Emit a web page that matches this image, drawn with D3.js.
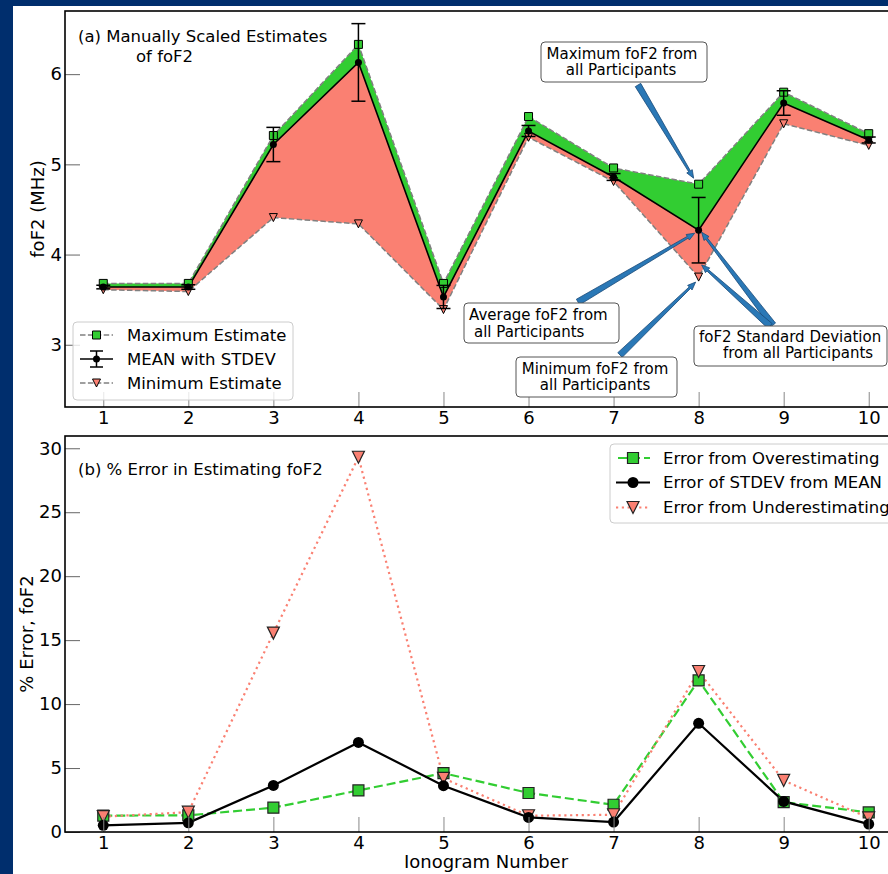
<!DOCTYPE html>
<html>
<head>
<meta charset="utf-8">
<script src="https://cdn.jsdelivr.net/npm/d3@7/dist/d3.min.js"></script>
<style>
body { margin: 0; background: #fff; }
svg { display: block; font-family: "DejaVu Sans", sans-serif; }
</style>
</head>
<body>
<script>
// ionogram numbers on the x axis
const ionograms = [1, 2, 3, 4, 5, 6, 7, 8, 9, 10];

// (a) manually scaled foF2 estimates, MHz
const maxEstimate = [3.68, 3.68, 5.32, 6.33, 3.68, 5.53, 4.96, 4.78, 5.80, 5.34];
const meanEstimate = [3.64, 3.64, 5.22, 6.13, 3.53, 5.37, 4.86, 4.27, 5.68, 5.27];
const minEstimate = [3.61, 3.59, 4.41, 4.34, 3.39, 5.30, 4.81, 3.75, 5.45, 5.21];
const stdevEstimate = [0.02, 0.025, 0.19, 0.43, 0.128, 0.061, 0.038, 0.363, 0.136, 0.033];

// (b) % error in estimating foF2
const errOver = [1.28, 1.3, 1.9, 3.25, 4.6, 3.05, 2.13, 11.85, 2.34, 1.53];
const errStdev = [0.52, 0.72, 3.64, 7.0, 3.62, 1.14, 0.78, 8.5, 2.39, 0.62];
const errUnder = [1.2, 1.55, 15.55, 29.3, 4.2, 1.27, 1.35, 12.55, 4.03, 1.1];

const topTicks = [3, 4, 5, 6];
const bottomTicks = [0, 5, 10, 15, 20, 25, 30];

const green = '#32cd32';
const salmon = '#fa8072';
const arrowBlue = '#2a78b6';

const svgWidth = 888;
const svgHeight = 874;

const svg = d3.select('body').append('svg')
    .attr('width', svgWidth)
    .attr('height', svgHeight);

svg.append('rect').attr('width', svgWidth).attr('height', svgHeight).attr('fill', '#fff');

const x = d3.scaleLinear().domain([0.55, 10.45]).range([65, 907]);
const yTop = d3.scaleLinear().domain([2.31, 6.70]).range([407, 11]);
const yBottom = d3.scaleLinear().domain([0, 30.96]).range([832, 436]);

function triangleDown(s) {
    return 'M' + (-s) + ',' + (-s) + 'L' + s + ',' + (-s) + 'L0,' + s + 'Z';
}

function squarePath(s) {
    return 'M' + (-s) + ',' + (-s) + 'H' + s + 'V' + s + 'H' + (-s) + 'Z';
}

function drawAxes(g, y, ticks) {
    g.append('g')
        .attr('transform', 'translate(0,' + y.range()[0] + ')')
        .call(d3.axisBottom(x).tickValues(ionograms).tickFormat(d3.format('d')).tickSize(-15).tickPadding(4))
        .call(a => a.select('.domain').remove())
        .call(a => a.selectAll('line').attr('stroke', '#888'))
        .call(a => a.selectAll('text').attr('font-size', 18).attr('fill', '#000')
            .attr('font-family', '"DejaVu Sans", sans-serif'));

    g.append('g')
        .attr('transform', 'translate(' + x.range()[0] + ',0)')
        .call(d3.axisLeft(y).tickValues(ticks).tickFormat(d3.format('d')).tickSize(-15).tickPadding(3))
        .call(a => a.select('.domain').remove())
        .call(a => a.selectAll('line').attr('stroke', '#666'))
        .call(a => a.selectAll('text').attr('font-size', 18).attr('fill', '#000')
            .attr('font-family', '"DejaVu Sans", sans-serif'));

    g.append('rect')
        .attr('x', x.range()[0]).attr('y', y.range()[1])
        .attr('width', x.range()[1] - x.range()[0])
        .attr('height', y.range()[0] - y.range()[1])
        .attr('fill', 'none').attr('stroke', '#000').attr('stroke-width', 1.6);
}

function drawTopPanel() {
    const g = svg.append('g');

    const idx = d3.range(ionograms.length);

    const upperArea = d3.area()
        .x(i => x(ionograms[i]))
        .y0(i => yTop(meanEstimate[i]))
        .y1(i => yTop(maxEstimate[i]));
    const lowerArea = d3.area()
        .x(i => x(ionograms[i]))
        .y0(i => yTop(minEstimate[i]))
        .y1(i => yTop(meanEstimate[i]));

    g.append('path').attr('d', upperArea(idx)).attr('fill', green);
    g.append('path').attr('d', lowerArea(idx)).attr('fill', salmon);

    const line = values => d3.line()
        .x(i => x(ionograms[i]))
        .y(i => yTop(values[i]))(idx);

    g.append('path').attr('d', line(maxEstimate))
        .attr('fill', 'none').attr('stroke', '#808080')
        .attr('stroke-width', 1.5).attr('stroke-dasharray', '5.5,2.4');
    g.append('path').attr('d', line(minEstimate))
        .attr('fill', 'none').attr('stroke', '#808080')
        .attr('stroke-width', 1.5).attr('stroke-dasharray', '5.5,2.4');
    g.append('path').attr('d', line(meanEstimate))
        .attr('fill', 'none').attr('stroke', '#000').attr('stroke-width', 1.6);

    g.selectAll('.max-mark').data(idx).enter()
        .append('path')
        .attr('transform', i => 'translate(' + x(ionograms[i]) + ',' + yTop(maxEstimate[i]) + ')')
        .attr('d', squarePath(4))
        .attr('fill', green).attr('stroke', '#000').attr('stroke-width', 1);

    g.selectAll('.min-mark').data(idx).enter()
        .append('path')
        .attr('transform', i => 'translate(' + x(ionograms[i]) + ',' + yTop(minEstimate[i]) + ')')
        .attr('d', triangleDown(4))
        .attr('fill', salmon).attr('stroke', '#000').attr('stroke-width', 1);

    // error bars
    const bars = g.selectAll('.err').data(idx).enter().append('g');
    bars.append('line')
        .attr('x1', i => x(ionograms[i])).attr('x2', i => x(ionograms[i]))
        .attr('y1', i => yTop(meanEstimate[i] + stdevEstimate[i]))
        .attr('y2', i => yTop(meanEstimate[i] - stdevEstimate[i]))
        .attr('stroke', '#000').attr('stroke-width', 1.5);
    [1, -1].forEach(sign => {
        bars.append('line')
            .attr('x1', i => x(ionograms[i]) - 7).attr('x2', i => x(ionograms[i]) + 7)
            .attr('y1', i => yTop(meanEstimate[i] + sign * stdevEstimate[i]))
            .attr('y2', i => yTop(meanEstimate[i] + sign * stdevEstimate[i]))
            .attr('stroke', '#000').attr('stroke-width', 1.5);
    });
    bars.append('circle')
        .attr('cx', i => x(ionograms[i])).attr('cy', i => yTop(meanEstimate[i]))
        .attr('r', 3.5).attr('fill', '#000');

    drawAxes(g, yTop, topTicks);

    g.append('text').attr('x', 78).attr('y', 42).attr('font-size', 16.5)
        .text('(a) Manually Scaled Estimates');
    g.append('text').attr('x', 136).attr('y', 62).attr('font-size', 16.5)
        .text('of foF2');

    g.append('text')
        .attr('transform', 'translate(44,' + (yTop.range()[0] + yTop.range()[1]) / 2 + ') rotate(-90)')
        .attr('text-anchor', 'middle').attr('font-size', 18)
        .text('foF2 (MHz)');

    // legend
    const leg = g.append('g');
    leg.append('rect').attr('x', 73).attr('y', 322).attr('width', 220).attr('height', 78)
        .attr('rx', 4).attr('fill', '#fff').attr('fill-opacity', 0.8)
        .attr('stroke', '#ccc').attr('stroke-width', 1);
    const rows = [335, 359, 383];
    leg.append('line').attr('x1', 80).attr('x2', 113).attr('y1', rows[0]).attr('y2', rows[0])
        .attr('stroke', '#808080').attr('stroke-width', 1.5).attr('stroke-dasharray', '5.5,2.4');
    leg.append('path').attr('transform', 'translate(96.5,' + rows[0] + ')').attr('d', squarePath(4))
        .attr('fill', green).attr('stroke', '#000');
    leg.append('line').attr('x1', 80).attr('x2', 113).attr('y1', rows[1]).attr('y2', rows[1])
        .attr('stroke', '#000').attr('stroke-width', 1.6);
    leg.append('line').attr('x1', 96.5).attr('x2', 96.5).attr('y1', rows[1] - 8).attr('y2', rows[1] + 8)
        .attr('stroke', '#000').attr('stroke-width', 1.5);
    [-8, 8].forEach(d => {
        leg.append('line').attr('x1', 90).attr('x2', 103).attr('y1', rows[1] + d).attr('y2', rows[1] + d)
            .attr('stroke', '#000').attr('stroke-width', 1.5);
    });
    leg.append('circle').attr('cx', 96.5).attr('cy', rows[1]).attr('r', 3.5).attr('fill', '#000');
    leg.append('line').attr('x1', 80).attr('x2', 113).attr('y1', rows[2]).attr('y2', rows[2])
        .attr('stroke', '#808080').attr('stroke-width', 1.5).attr('stroke-dasharray', '5.5,2.4');
    leg.append('path').attr('transform', 'translate(96.5,' + rows[2] + ')').attr('d', triangleDown(4))
        .attr('fill', salmon).attr('stroke', '#000');
    ['Maximum Estimate', 'MEAN with STDEV', 'Minimum Estimate'].forEach((t, k) => {
        leg.append('text').attr('x', 127).attr('y', rows[k]).attr('dy', '0.35em')
            .attr('font-size', 16.5).text(t);
    });

    drawAnnotations(g);
}

function drawArrow(g, x1, y1, x2, y2) {
    const dx = x2 - x1, dy = y2 - y1;
    const len = Math.sqrt(dx * dx + dy * dy);
    const ux = dx / len, uy = dy / len;
    const px = -uy, py = ux;
    const tailW = 3.2, neckW = 1.0, headW = 3.2, headL = 8;
    const nx = x2 - ux * headL, ny = y2 - uy * headL;
    const pts = [
        [x1 + px * tailW, y1 + py * tailW],
        [nx + px * neckW, ny + py * neckW],
        [nx + px * headW, ny + py * headW],
        [x2, y2],
        [nx - px * headW, ny - py * headW],
        [nx - px * neckW, ny - py * neckW],
        [x1 - px * tailW, y1 - py * tailW]
    ];
    g.append('path').attr('d', 'M' + pts.map(p => p.join(',')).join('L') + 'Z')
        .attr('fill', arrowBlue).attr('stroke', '#1b4a78').attr('stroke-width', 0.8);
}

function drawAnnotations(g) {
    const x8 = x(8);
    const i8 = ionograms.indexOf(8);

    drawArrow(g, 638, 85, x8 - 5, yTop(maxEstimate[i8]) - 6);
    drawArrow(g, 578, 302, x8 - 4, yTop(meanEstimate[i8]) + 3);
    drawArrow(g, 620, 355, x8 - 3, yTop(minEstimate[i8]) + 5);
    drawArrow(g, 773, 325, x8 + 3, yTop(meanEstimate[i8]) + 2);
    drawArrow(g, 770, 326, x8 + 3, yTop(meanEstimate[i8] - stdevEstimate[i8]) + 2);

    const boxes = [
        {x: 541, y: 42, w: 166, h: 40, lines: [['Maximum foF2 from', 622, 58.5], ['all Participants', 621, 75]], anchor: 'middle'},
        {x: 464, y: 303, w: 155, h: 40, lines: [['Average foF2 from', 469, 320], ['all Participants', 474, 336.5]], anchor: 'start'},
        {x: 516, y: 357, w: 161, h: 40, lines: [['Minimum foF2 from', 595, 373.5], ['all Participants', 595, 390]], anchor: 'middle'},
        {x: 694, y: 326, w: 193, h: 40, lines: [['foF2 Standard Deviation', 699, 341.7], ['from all Participants', 723, 358.3]], anchor: 'start'}
    ];
    boxes.forEach(b => {
        g.append('rect').attr('x', b.x).attr('y', b.y).attr('width', b.w).attr('height', b.h)
            .attr('rx', 4).attr('fill', '#fff').attr('stroke', '#555').attr('stroke-width', 1);
        b.lines.forEach(l => {
            g.append('text').attr('x', l[1]).attr('y', l[2]).attr('text-anchor', b.anchor)
                .attr('font-size', 15).text(l[0]);
        });
    });
}

function drawBottomPanel() {
    const g = svg.append('g');
    const idx = d3.range(ionograms.length);

    const line = values => d3.line()
        .x(i => x(ionograms[i]))
        .y(i => yBottom(values[i]))(idx);

    g.append('path').attr('d', line(errOver)).attr('fill', 'none')
        .attr('stroke', green).attr('stroke-width', 2.2).attr('stroke-dasharray', '9,4');
    g.append('path').attr('d', line(errUnder)).attr('fill', 'none')
        .attr('stroke', salmon).attr('stroke-width', 2.2).attr('stroke-dasharray', '2.2,3.6');
    g.append('path').attr('d', line(errStdev)).attr('fill', 'none')
        .attr('stroke', '#000').attr('stroke-width', 2.2);

    g.selectAll('.over').data(idx).enter().append('path')
        .attr('transform', i => 'translate(' + x(ionograms[i]) + ',' + yBottom(errOver[i]) + ')')
        .attr('d', squarePath(5.5))
        .attr('fill', green).attr('stroke', '#222').attr('stroke-width', 1.2);
    g.selectAll('.under').data(idx).enter().append('path')
        .attr('transform', i => 'translate(' + x(ionograms[i]) + ',' + yBottom(errUnder[i]) + ')')
        .attr('d', triangleDown(6))
        .attr('fill', salmon).attr('stroke', '#222').attr('stroke-width', 1.2);
    g.selectAll('.stdev').data(idx).enter().append('circle')
        .attr('cx', i => x(ionograms[i])).attr('cy', i => yBottom(errStdev[i]))
        .attr('r', 5.5).attr('fill', '#000');

    drawAxes(g, yBottom, bottomTicks);

    g.append('text').attr('x', 78).attr('y', 475).attr('font-size', 16.5)
        .text('(b) % Error in Estimating foF2');

    g.append('text')
        .attr('transform', 'translate(33,' + (yBottom.range()[0] + yBottom.range()[1]) / 2 + ') rotate(-90)')
        .attr('text-anchor', 'middle').attr('font-size', 18)
        .text('% Error, foF2');

    g.append('text')
        .attr('x', (x.range()[0] + x.range()[1]) / 2).attr('y', 868)
        .attr('text-anchor', 'middle').attr('font-size', 18)
        .text('Ionogram Number');

    // legend
    const leg = g.append('g');
    leg.append('rect').attr('x', 610).attr('y', 444).attr('width', 290).attr('height', 79)
        .attr('rx', 4).attr('fill', '#fff').attr('fill-opacity', 0.8)
        .attr('stroke', '#ccc').attr('stroke-width', 1);
    const rows = [458, 482.5, 507.5];
    leg.append('line').attr('x1', 616).attr('x2', 650).attr('y1', rows[0]).attr('y2', rows[0])
        .attr('stroke', green).attr('stroke-width', 2.2).attr('stroke-dasharray', '9,4')
        .attr('stroke-dashoffset', -2);
    leg.append('path').attr('transform', 'translate(633,' + rows[0] + ')').attr('d', squarePath(5.5))
        .attr('fill', green).attr('stroke', '#222').attr('stroke-width', 1.2);
    leg.append('line').attr('x1', 616).attr('x2', 650).attr('y1', rows[1]).attr('y2', rows[1])
        .attr('stroke', '#000').attr('stroke-width', 2.2);
    leg.append('circle').attr('cx', 633).attr('cy', rows[1]).attr('r', 5.5).attr('fill', '#000');
    leg.append('line').attr('x1', 616).attr('x2', 650).attr('y1', rows[2]).attr('y2', rows[2])
        .attr('stroke', salmon).attr('stroke-width', 2.2).attr('stroke-dasharray', '2.2,3.6');
    leg.append('path').attr('transform', 'translate(633,' + rows[2] + ')').attr('d', triangleDown(6))
        .attr('fill', salmon).attr('stroke', '#222').attr('stroke-width', 1.2);
    ['Error from Overestimating', 'Error of STDEV from MEAN', 'Error from Underestimating'].forEach((t, k) => {
        leg.append('text').attr('x', 663).attr('y', rows[k]).attr('dy', '0.35em')
            .attr('font-size', 16.5).text(t);
    });
}

function drawFrame() {
    svg.append('rect').attr('x', 0).attr('y', 0).attr('width', 13).attr('height', svgHeight)
        .attr('fill', '#002e6d');
    svg.append('rect').attr('x', 0).attr('y', 0).attr('width', svgWidth).attr('height', 6)
        .attr('fill', '#002e6d');
}

drawTopPanel();
drawBottomPanel();
drawFrame();
</script>
</body>
</html>
